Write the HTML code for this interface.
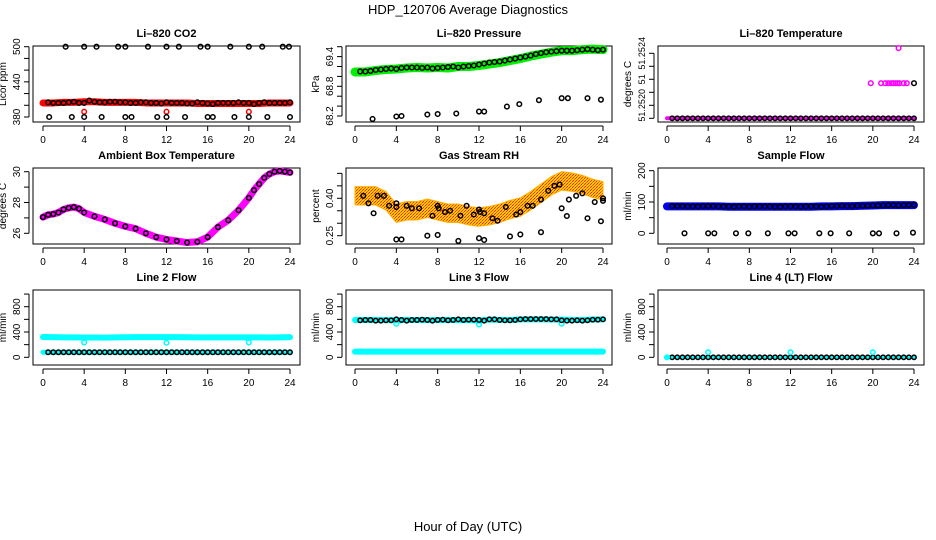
<!DOCTYPE html>
<html><head><meta charset="utf-8"><style>
html,body{margin:0;padding:0;background:#fff;}
svg{display:block;font-family:"Liberation Sans",Arial,sans-serif;}
</style></head><body>
<svg id="chart" width="936" height="540" viewBox="0 0 936 540" xmlns="http://www.w3.org/2000/svg">
<defs>
<pattern id="rhPat" width="3" height="3" patternUnits="userSpaceOnUse">
<rect width="3" height="3" fill="#ffcc00"/><rect width="1" height="1" fill="#ff2000"/><rect x="2" y="1" width="1" height="1" fill="#ff2000"/><rect x="1" y="2" width="1" height="1" fill="#ff6000"/>
</pattern>
</defs>
<text x="468" y="14" text-anchor="middle" font-size="13">HDP_120706  Average Diagnostics</text>
<text x="468" y="531" text-anchor="middle" font-size="13">Hour of Day (UTC)</text>
<g id="panels"></g>
</svg>
<script>
// ---------- shared data ----------
const xTickValues = [0, 4, 8, 12, 16, 20, 24];
const bandHours = [0,1,2,3,4,5,6,7,8,9,10,11,12,13,14,15,16,17,18,19,20,21,22,23,24];
const circleHours = [0.5,1,1.5,2,2.5,3,3.5,4,4.5,5,5.5,6,6.5,7,7.5,8,8.5,9,9.5,10,10.5,11,11.5,12,12.5,13,13.5,14,14.5,15,15.5,16,16.5,17,17.5,18,18.5,19,19.5,20,20.5,21,21.5,22,22.5,23,23.5,24];

// CO2
const co2Band = [404,404,405,405,406,406,405,405,405,405,404,404,404,404,404,403,403,403,403,403,403,403,404,404,404];
const co2Mid = [405,404,404,404,405,406,404,404,408,406,405,405,406,406,405,405,404,404,405,405,404,404,403,405,404,404,404,403,403,405,404,403,402,404,404,404,404,405,404,404,402,404,405,404,404,404,404,405];
const co2TopHours = [2.2,4,5.2,7.3,8,10.2,12,13.2,15.3,16,18.2,20,21.3,23.3,23.9];
const co2TopValues = [500,500,500,500,500,500,500,500,500,500,500,500,500,500,500];
const co2LowHours = [0.6,2.8,4,5.7,8,8.6,11.1,12,13.8,16,16.5,18.6,20,21.8,24];
const co2LowValues = [380,380,380,380,380,380,380,380,380,380,380,380,380,380,380];
const co2RedHours = [4,12,20];
const co2RedValues = [389,389,389];

// Pressure
const presBand = [69.09,69.09,69.12,69.14,69.15,69.17,69.18,69.17,69.18,69.17,69.2,69.2,69.22,69.25,69.28,69.32,69.36,69.41,69.45,69.49,69.52,69.52,69.54,69.55,69.54];
const presMid = [69.1,69.1,69.11,69.13,69.14,69.15,69.16,69.15,69.17,69.18,69.18,69.18,69.17,69.18,69.16,69.17,69.18,69.19,69.2,69.18,69.2,69.21,69.22,69.24,69.26,69.28,69.29,69.3,69.32,69.34,69.36,69.38,69.4,69.42,69.45,69.47,69.49,69.5,69.51,69.52,69.52,69.52,69.53,69.54,69.55,69.54,69.53,69.54];
const presLowHours = [1.7,4,4.5,7,8,9.8,12,12.5,14.7,15.9,17.8,20,20.6,22.5,23.8];
const presLowValues = [68.14,68.19,68.2,68.23,68.24,68.25,68.29,68.29,68.39,68.44,68.52,68.56,68.56,68.56,68.53];

// Li-820 temperature
const tempTickValues = [51.2519,51.2520,51.2521,51.2522,51.2523,51.2524];
const tempTickLabels = ["","51.2520","","51","","51.2524"];
const tempBaseValue = 51.2519;
const tempMagHours = [19.8,20.8,21.2,21.5,21.8,22.0,22.2,22.4,22.6,23,23.3];
const tempMagValues = [51.25217,51.25217,51.25217,51.25217,51.25217,51.25217,51.25217,51.25217,51.25217,51.25217,51.25217];
const tempOutHours = [22.5];
const tempOutValues = [51.25244];
const tempBlackHours = [24];
const tempBlackValues = [51.25217];

// Ambient box temperature
const ambHours = [0,0.5,1,1.5,2,2.5,3,3.5,4,5,6,7,8,9,10,11,12,13,14,15,16,17,18,19,20,20.5,21,21.5,22,22.5,23,23.5,24];
const ambValues = [27.05,27.2,27.25,27.35,27.55,27.65,27.7,27.6,27.35,27.1,26.9,26.65,26.45,26.3,26.0,25.75,25.6,25.5,25.4,25.45,25.75,26.4,26.85,27.5,28.3,28.8,29.2,29.6,29.85,30.0,30.05,30.0,29.95];

// Gas stream RH
const rhBand = [0.41,0.41,0.41,0.39,0.34,0.35,0.35,0.36,0.35,0.34,0.34,0.33,0.325,0.33,0.34,0.355,0.365,0.39,0.42,0.45,0.47,0.465,0.455,0.44,0.43];
const rhHalf = 0.037;
const rhUpHours = [0.8,1.3,2.2,2.8,3.3,4,4,5,5.5,6.2,7.5,8,8.1,8.7,9.2,10.2,10.8,11.5,12,12.1,12.5,13.3,13.8,14.6,15.6,16,16.7,17.2,18,18.7,19.3,19.8,20.7,21.4,22,23.2,24,24];
const rhUpValues = [0.41,0.38,0.41,0.41,0.37,0.38,0.365,0.37,0.36,0.36,0.33,0.37,0.36,0.345,0.35,0.33,0.37,0.335,0.355,0.345,0.34,0.32,0.31,0.365,0.335,0.345,0.37,0.37,0.395,0.43,0.45,0.455,0.395,0.41,0.42,0.385,0.39,0.40];
const rhLowHours = [1.8,4,4.5,7,8,10,12,12.5,15,16,18,20,20.5,22.5,23.8];
const rhLowValues = [0.34,0.235,0.235,0.25,0.253,0.229,0.24,0.233,0.247,0.255,0.264,0.36,0.329,0.32,0.308];

// Sample flow
const sfBand = [86,86,86,86,86,86,85,85,85,85,85,85,85,85,85,86,86,87,87,88,89,90,90,90,90];
const sfMid = [87,87,87,86,86,86,87,87,87,86,86,86,85,86,86,85,86,86,86,86,85,85,86,86,86,85,86,86,86,85,86,87,87,88,87,87,88,88,88,89,89,89,90,90,89,90,90,91];
const sfLowHours = [1.7,4,4.6,6.7,7.9,9.8,11.8,12.4,14.8,15.9,17.7,20,20.6,22.3,23.9];
const sfLowValues = [0,0,0,0,0,0,0,0,0,0,0,0,0,0,2];

// Line 2 flow
const l2Band = [320,318,316,315,314,313,312,315,317,318,318,318,318,318,317,316,316,316,316,316,316,315,314,316,318];
const l2DipHours = [4,12,20];
const l2DipValues = [235,230,235];
const l2LowBand = [80,80,80,80,80,80,80,80,80,80,80,80,80,80,80,80,80,80,80,80,80,80,80,80,80];
const l2Black = [80,80,80,80,80,80,80,80,80,80,80,80,80,80,80,80,80,80,80,80,80,80,80,80,80,80,80,80,80,80,80,80,80,80,80,80,80,80,80,80,80,80,80,80,80,80,80,80];

// Line 3 flow
const l3Band = [590,592,590,588,585,590,590,588,590,590,588,590,580,595,592,590,600,600,600,598,595,590,590,598,600];
const l3DipHours = [4,12,20];
const l3DipValues = [530,520,530];
const l3LowBand = [90,90,90,90,90,90,90,90,90,90,90,90,90,90,90,90,90,90,90,90,90,90,90,90,90];
const l3Black = [585,590,590,580,580,585,585,600,590,580,590,590,595,590,580,590,595,585,590,600,590,595,595,590,580,600,600,590,585,585,590,600,605,605,605,605,605,600,600,585,580,580,585,580,585,595,595,600];

// Line 4 flow
const l4Base = [0,0,0,0,0,0,0,0,0,0,0,0,0,0,0,0,0,0,0,0,0,0,0,0,0];
const l4Black = [0,0,0,0,0,0,0,0,0,0,0,0,0,0,0,0,0,0,0,0,0,0,0,0,0,0,0,0,0,0,0,0,0,0,0,0,0,0,0,0,0,0,0,0,0,0,0,0];
const l4SpikeHours = [4,12,20];
const l4SpikeValues = [80,80,80];

// ---------- drawing ----------
const NS = "http://www.w3.org/2000/svg";
const root = document.getElementById('panels');
function mk(tag, attrs, parent) {
  const e = document.createElementNS(NS, tag);
  for (const k in attrs) e.setAttribute(k, attrs[k]);
  parent.appendChild(e);
  return e;
}
function linScale(d0, d1, r0, r1) { return v => r0 + (v - d0) * (r1 - r0) / (d1 - d0); }

function panel(p) {
  const g = mk('g', {}, root);
  
  
  const xs = linScale(0, 24, p.xr[0], p.xr[1]);
  const ys = linScale(p.yd[0], p.yd[1], p.yr[0], p.yr[1]);
  p.xs = xs; p.ys = ys; p.g = g;
  const box = mk('rect', {x: p.bx[0], y: p.by[0], width: p.bx[1]-p.bx[0], height: p.by[1]-p.by[0], fill: 'none', stroke: '#000', 'stroke-width': 1}, g);
  
  
  const t = mk('text', {x: (p.bx[0]+p.bx[1])/2, y: p.by[0]-9, 'text-anchor': 'middle', 'font-size': 11, 'font-weight': 'bold'}, g);
  t.textContent = p.title;
  
  
  const xa = mk('g', {}, g);
  
  
  mk('line', {x1: xs(0), x2: xs(24), y1: p.by[1]+4, y2: p.by[1]+4, stroke: '#000'}, xa);
  xTickValues.forEach(v => {
    mk('line', {x1: xs(v), x2: xs(v), y1: p.by[1]+4, y2: p.by[1]+9, stroke: '#000'}, xa);
    const l = mk('text', {x: xs(v), y: p.by[1]+21, 'text-anchor': 'middle', 'font-size': 10}, xa);
    l.textContent = v;
    
    
  });
  const ya = mk('g', {}, g);
  
  
  const yt = p.yticks;
  mk('line', {x1: p.bx[0]-4, x2: p.bx[0]-4, y1: ys(yt[0]), y2: ys(yt[yt.length-1]), stroke: '#000'}, ya);
  yt.forEach((v, i) => {
    mk('line', {x1: p.bx[0]-9, x2: p.bx[0]-4, y1: ys(v), y2: ys(v), stroke: '#000'}, ya);
    const lab = p.ylabels[i];
    if (lab) {
      const X = p.bx[0]-13, Y = ys(v);
      const l = mk('text', {x: X, y: Y, 'text-anchor': 'middle', 'font-size': p.yfs || 10, transform: `rotate(-90 ${X} ${Y})`}, ya);
      l.textContent = lab;
      
      
    }
  });
  const YX = p.bx[0]-27, YY = (p.by[0]+p.by[1])/2;
  const yl = mk('text', {x: YX, y: YY, 'text-anchor': 'middle', 'font-size': 10, transform: `rotate(-90 ${YX} ${YY})`}, ya);
  yl.textContent = p.ylab;
  
  
  return p;
}
function band(p, hours, vals, color, w, name) {
  const pts = hours.map((h, i) => p.xs(h) + ',' + p.ys(vals[i])).join(' ');
  const e = mk('polyline', {points: pts, fill: 'none', stroke: color, 'stroke-width': w, 'stroke-linecap': 'round', 'stroke-linejoin': 'round'}, p.g);
  
  
}
function circles(p, hours, vals, color, name, r) {
  const gg = mk('g', {}, p.g);
  
  
  hours.forEach((h, i) => {
    const c = mk('circle', {cx: p.xs(h), cy: p.ys(vals[i]), r: r || 2.3, fill: 'none', stroke: color, 'stroke-width': 1.5}, gg);
    
    
  });
}

const c1 = {bx:[33,300], xr:[43,290]}, c2 = {bx:[346,612], xr:[355,603]}, c3 = {bx:[658,924], xr:[667,914]};
const r1 = [46,122], r2 = [168,244], r3 = [290,365];
const flowTicks = [0,200,400,600,800,1000], flowLabels = ["0","","400","","800",""];

let p = panel({name:'panel-co2', title:'Li\u2013820 CO2', ylab:'Licor ppm', bx:c1.bx, xr:c1.xr, by:r1, yd:[380,500], yr:[117,46.7], yticks:[380,400,420,440,460,480,500], ylabels:["380","","","440","","","500"]});
band(p, bandHours, co2Band, '#ff0000', 7, 'co2-band');
circles(p, co2RedHours, co2RedValues, '#ff0000', 'co2-red-points');
circles(p, circleHours, co2Mid, '#000', 'co2-points');
circles(p, co2TopHours, co2TopValues, '#000', 'co2-top-points');
circles(p, co2LowHours, co2LowValues, '#000', 'co2-low-points');

p = panel({name:'panel-pressure', title:'Li\u2013820 Pressure', ylab:'kPa', bx:c2.bx, xr:c2.xr, by:r1, yd:[68.2,69.4], yr:[116,56.6], yticks:[68.2,68.4,68.6,68.8,69.0,69.2,69.4,69.6], ylabels:["68.2","","","68.8","","","69.4",""]});
band(p, bandHours, presBand, '#00ee00', 9, 'pressure-band');
circles(p, circleHours, presMid, '#000', 'pressure-points');
circles(p, presLowHours, presLowValues, '#000', 'pressure-low-points');

p = panel({name:'panel-li820-temp', title:'Li\u2013820 Temperature', ylab:'degrees C', bx:c3.bx, xr:c3.xr, by:r1, yd:[51.2519,51.2524], yr:[118.3,53.3], yticks:tempTickValues, ylabels:tempTickLabels, yfs:9});
band(p, bandHours, bandHours.map(() => tempBaseValue), '#ff00ff', 4, 'temp-base-band');
circles(p, circleHours, circleHours.map(() => tempBaseValue), '#000', 'temp-base-points', 2.2);
circles(p, tempMagHours, tempMagValues, '#ff00ff', 'temp-magenta-points');
circles(p, tempOutHours, tempOutValues, '#ff00ff', 'temp-outlier');
circles(p, tempBlackHours, tempBlackValues, '#000', 'temp-black-points');

p = panel({name:'panel-ambient', title:'Ambient Box Temperature', ylab:'degrees C', bx:c1.bx, xr:c1.xr, by:r2, yd:[26,30], yr:[233.3,171.7], yticks:[26,27,28,29,30], ylabels:["26","","28","","30"]});
band(p, ambHours, ambValues, '#ff00ff', 7, 'ambient-band');
circles(p, ambHours, ambValues, '#000', 'ambient-points');

p = panel({name:'panel-rh', title:'Gas Stream RH', ylab:'percent', bx:c2.bx, xr:c2.xr, by:r2, yd:[0.25,0.40], yr:[235.7,198.3], yticks:[0.25,0.30,0.35,0.40,0.45,0.50], ylabels:["0.25","","","0.40","",""]});
(function(){
  const up = bandHours.map((h, i) => p.xs(h) + ',' + p.ys(rhBand[i] + rhHalf));
  const dn = bandHours.map((h, i) => p.xs(h) + ',' + p.ys(rhBand[i] - rhHalf)).reverse();
  const e = mk('polygon', {points: up.concat(dn).join(' '), fill: 'url(#rhPat)', stroke: '#ffb000', 'stroke-width': 1}, p.g);
  
  
})();
circles(p, rhUpHours, rhUpValues, '#000', 'rh-points');
circles(p, rhLowHours, rhLowValues, '#000', 'rh-low-points');

p = panel({name:'panel-sample-flow', title:'Sample Flow', ylab:'ml/min', bx:c3.bx, xr:c3.xr, by:r2, yd:[0,200], yr:[233.3,170.7], yticks:[0,50,100,150,200], ylabels:["0","","100","","200"]});
band(p, bandHours, sfBand, '#0000ee', 8, 'sample-flow-band');
circles(p, circleHours, sfMid, '#000', 'sample-flow-points');
circles(p, sfLowHours, sfLowValues, '#000', 'sample-flow-low-points');

p = panel({name:'panel-line2', title:'Line 2 Flow', ylab:'ml/min', bx:c1.bx, xr:c1.xr, by:r3, yd:[0,800], yr:[357.3,306.7], yticks:flowTicks, ylabels:flowLabels});
band(p, bandHours, l2Band, '#00ffff', 6, 'line2-band');
band(p, bandHours, l2LowBand, '#00ffff', 5, 'line2-low-band');
circles(p, l2DipHours, l2DipValues, '#00ffff', 'line2-dips');
circles(p, circleHours, l2Black, '#000', 'line2-points', 2.2);

p = panel({name:'panel-line3', title:'Line 3 Flow', ylab:'ml/min', bx:c2.bx, xr:c2.xr, by:r3, yd:[0,800], yr:[357.3,306.7], yticks:flowTicks, ylabels:flowLabels});
band(p, bandHours, l3Band, '#00ffff', 6, 'line3-band');
band(p, bandHours, l3LowBand, '#00ffff', 6, 'line3-low-band');
circles(p, l3DipHours, l3DipValues, '#00ffff', 'line3-dips');
circles(p, circleHours, l3Black, '#000', 'line3-points', 2.2);

p = panel({name:'panel-line4', title:'Line 4 (LT) Flow', ylab:'ml/min', bx:c3.bx, xr:c3.xr, by:r3, yd:[0,800], yr:[357.3,306.7], yticks:flowTicks, ylabels:flowLabels});
band(p, bandHours, l4Base, '#00ffff', 3, 'line4-band');
circles(p, circleHours, l4Black, '#000', 'line4-points', 2.2);
circles(p, l4SpikeHours, l4SpikeValues, '#00ffff', 'line4-spikes');
circles(p, [0], [0], '#00ffff', 'line4-start');
</script>
</body></html>
